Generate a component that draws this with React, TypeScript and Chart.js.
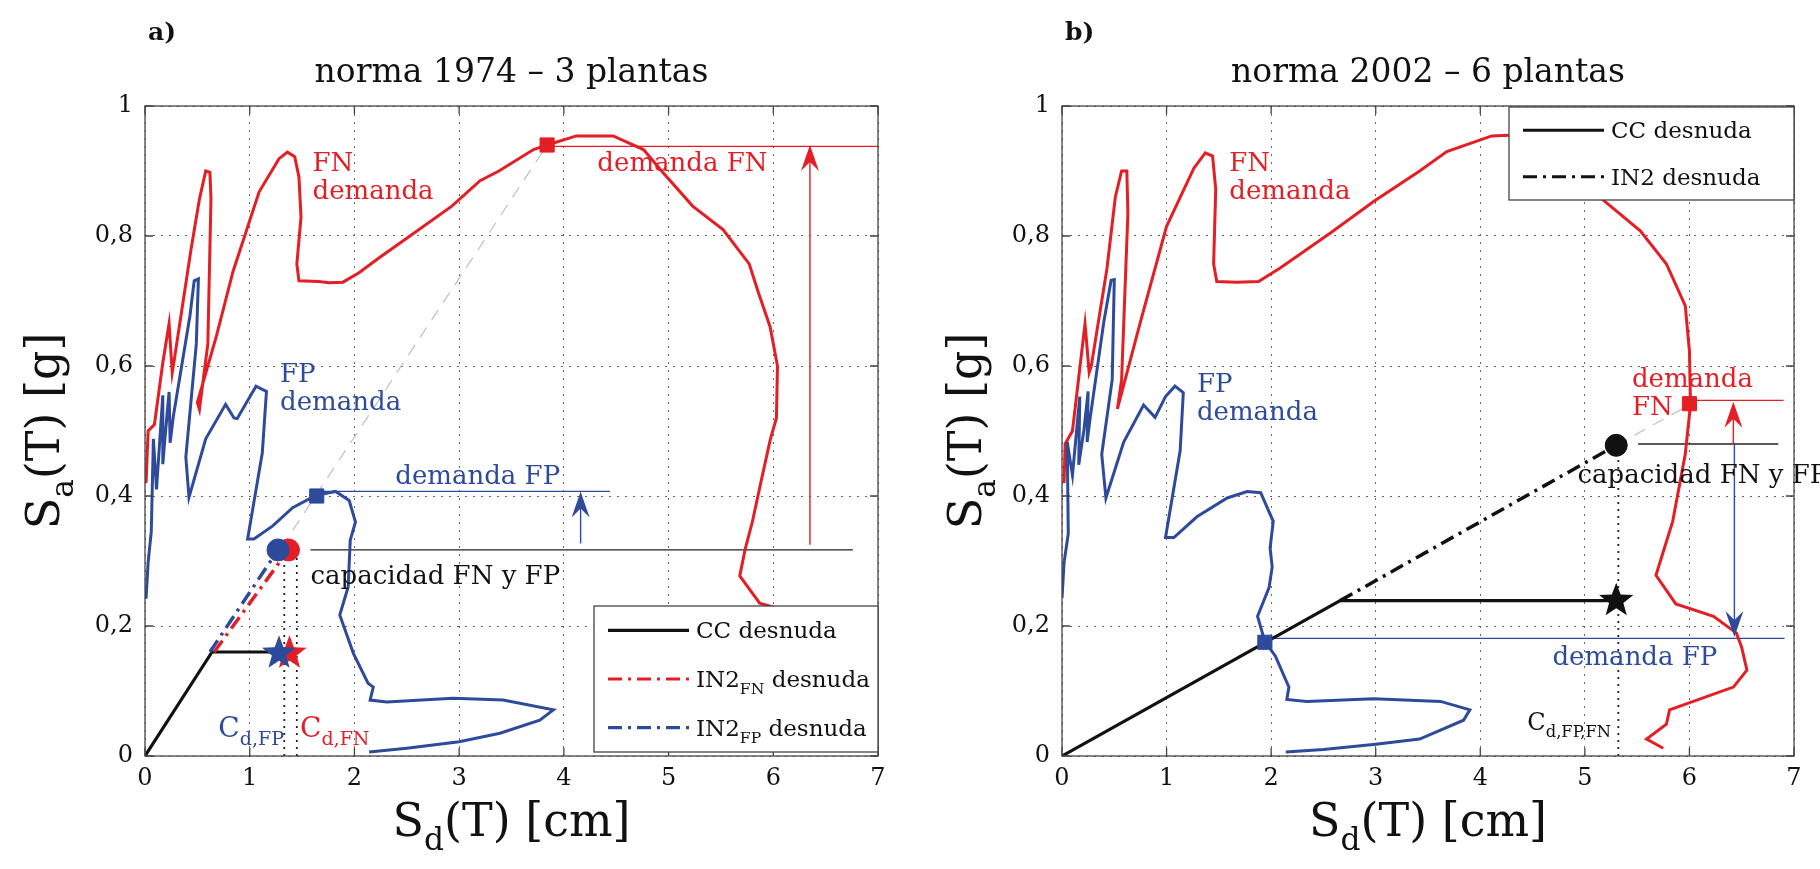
import React, { useEffect, useRef } from "react";
import { Chart, registerables } from "chart.js";
Chart.register(...registerables);

const RED = "#e31e24";
const BLUE = "#2e4b9b";
const FONT = '"DejaVu Serif", "Liberation Serif", serif';

const X_TICKS = [0, 1, 2, 3, 4, 5, 6, 7];
const Y_TICKS = [0, 0.2, 0.4, 0.6, 0.8, 1];

// ---------- panel a ----------
const A_FN_X = [0.01, 0.03, 0.09, 0.17, 0.23, 0.26, 0.28, 0.44, 0.52, 0.58, 0.62, 0.63, 0.6, 0.52, 0.5, 0.68, 0.84, 1.09, 1.28, 1.36, 1.43, 1.47, 1.49, 1.45, 1.47, 1.66, 1.76, 1.89, 2.04, 2.25, 2.53, 2.93, 3.2, 3.38, 3.71, 3.84, 4.12, 4.47, 4.76, 4.95, 5.23, 5.52, 5.77, 5.86, 5.97, 6.04, 6.03, 5.97, 5.88, 5.8, 5.73, 5.68, 5.87, 6.0, 6.2];
const A_FN_Y = [0.42, 0.5, 0.51, 0.605, 0.665, 0.59, 0.61, 0.78, 0.857, 0.9, 0.898, 0.857, 0.634, 0.533, 0.544, 0.645, 0.745, 0.868, 0.919, 0.929, 0.922, 0.891, 0.829, 0.757, 0.731, 0.73, 0.728, 0.729, 0.743, 0.768, 0.8, 0.846, 0.885, 0.9, 0.933, 0.94, 0.954, 0.954, 0.933, 0.897, 0.846, 0.81, 0.757, 0.712, 0.66, 0.6, 0.52, 0.486, 0.42, 0.36, 0.317, 0.277, 0.235, 0.229, 0.218];
const A_FP_X = [0.01, 0.03, 0.06, 0.08, 0.11, 0.17, 0.17, 0.19, 0.23, 0.24, 0.27, 0.43, 0.47, 0.51, 0.49, 0.39, 0.42, 0.58, 0.77, 0.85, 0.88, 1.06, 1.12, 1.16, 1.12, 0.98, 1.04, 1.22, 1.41, 1.63, 1.82, 1.95, 2.01, 1.96, 1.94, 1.86, 1.99, 2.13, 2.18, 2.15, 2.31, 2.94, 3.42, 3.9, 3.77, 3.39, 3.0, 2.5, 2.14];
const A_FP_Y = [0.242, 0.298, 0.345, 0.488, 0.41, 0.555, 0.449, 0.488, 0.56, 0.482, 0.522, 0.678, 0.731, 0.734, 0.634, 0.46, 0.398, 0.488, 0.541, 0.52, 0.519, 0.569, 0.564, 0.561, 0.466, 0.334, 0.334, 0.354, 0.382, 0.401, 0.407, 0.393, 0.36, 0.332, 0.26, 0.217, 0.158, 0.112, 0.106, 0.086, 0.083, 0.089, 0.086, 0.071, 0.055, 0.035, 0.022, 0.012, 0.006];
const A_CC_X = [0, 0.64, 1.33];
const A_CC_Y = [0, 0.16, 0.16];
const A_IN2FN_X = [0.66, 1.37];
const A_IN2FN_Y = [0.16, 0.317];
const A_IN2FP_X = [0.62, 1.27];
const A_IN2FP_Y = [0.16, 0.317];
const A_GUIDE_X = [1.3, 3.84];
const A_GUIDE_Y = [0.32, 0.94];
const A_SQ_FN = [3.84, 0.94];
const A_SQ_FP = [1.64, 0.4];
const A_CIRC_FN = [1.37, 0.317];
const A_CIRC_FP = [1.27, 0.317];
const A_STAR_FN = [1.38, 0.158];
const A_STAR_FP = [1.28, 0.158];
const A_LINE_FN = [3.84, 7.0, 0.938];
const A_LINE_FP = [1.64, 4.44, 0.407];
const A_LINE_CAP = [1.58, 6.76, 0.317];
const A_VDOT_X = [1.33, 1.45];
const A_VDOT_TOP = 0.317;
const A_ARROW_FP = [4.16, 0.327, 0.407];
const A_ARROW_FN = [6.35, 0.325, 0.94];

// ---------- panel b ----------
const B_FN_X = [0.02, 0.03, 0.1, 0.18, 0.22, 0.26, 0.28, 0.43, 0.51, 0.57, 0.62, 0.63, 0.57, 0.53, 0.75, 1.0, 1.26, 1.37, 1.44, 1.47, 1.45, 1.48, 1.67, 1.88, 2.09, 2.57, 2.98, 3.42, 3.68, 4.11, 4.28, 4.6, 4.95, 5.17, 5.53, 5.78, 5.96, 6.0, 6.01, 5.96, 5.84, 5.68, 5.87, 6.23, 6.45, 6.5, 6.55, 6.42, 5.81, 5.78, 5.59, 5.75];
const B_FN_Y = [0.42, 0.48, 0.5, 0.61, 0.665, 0.59, 0.6, 0.75, 0.86, 0.9, 0.9, 0.834, 0.579, 0.534, 0.668, 0.815, 0.904, 0.928, 0.923, 0.872, 0.757, 0.73, 0.729, 0.73, 0.751, 0.805, 0.853, 0.9, 0.93, 0.954, 0.955, 0.955, 0.93, 0.856, 0.808, 0.757, 0.693, 0.623, 0.54, 0.464, 0.361, 0.278, 0.234, 0.215, 0.189, 0.167, 0.132, 0.106, 0.071, 0.049, 0.026, 0.012];
const B_FP_X = [0.0, 0.02, 0.06, 0.05, 0.1, 0.17, 0.16, 0.21, 0.25, 0.24, 0.27, 0.4, 0.47, 0.5, 0.48, 0.38, 0.42, 0.59, 0.78, 0.89, 0.99, 1.08, 1.16, 1.13, 0.99, 1.07, 1.29, 1.58, 1.77, 1.9, 2.02, 1.99, 2.01, 1.98, 1.87, 1.94, 2.04, 2.17, 2.15, 2.34, 2.98, 3.62, 3.9, 3.84, 3.42, 3.0, 2.5, 2.14];
const B_FP_Y = [0.243, 0.298, 0.342, 0.483, 0.432, 0.553, 0.448, 0.502, 0.561, 0.483, 0.521, 0.668, 0.732, 0.733, 0.579, 0.464, 0.397, 0.483, 0.54, 0.521, 0.553, 0.569, 0.559, 0.47, 0.336, 0.336, 0.368, 0.397, 0.407, 0.405, 0.361, 0.32, 0.291, 0.259, 0.215, 0.176, 0.154, 0.106, 0.087, 0.084, 0.088, 0.084, 0.071, 0.055, 0.026, 0.018, 0.01, 0.006];
const B_CC_X = [0, 2.66, 5.3];
const B_CC_Y = [0, 0.239, 0.239];
const B_IN2_X = [2.66, 5.3];
const B_IN2_Y = [0.239, 0.478];
const B_GUIDE_X = [5.3, 6.0];
const B_GUIDE_Y = [0.478, 0.54];
const B_SQ_FN = [6.0, 0.542];
const B_SQ_FP = [1.94, 0.175];
const B_CIRC = [5.3, 0.478];
const B_STAR = [5.3, 0.239];
const B_LINE_FN = [6.0, 6.9, 0.547];
const B_LINE_FP = [1.94, 6.91, 0.181];
const B_LINE_CAP = [5.51, 6.85, 0.48];
const B_VDOT_X = [5.32];
const B_VDOT_TOP = 0.478;
const B_ARROW_FN = [6.42, 0.48, 0.545];
const B_ARROW_FP = [6.43, 0.48, 0.183];

const zip = (xs: number[], ys: number[]) => xs.map((x, i) => ({ x, y: ys[i] }));
const hline = (l: number[]) => [{ x: l[0], y: l[2] }, { x: l[1], y: l[2] }];
const pt = (p: number[]) => [{ x: p[0], y: p[1] }];

function line(data: any[], color: string, width: number, dash: number[] = []) {
  return { data, borderColor: color, backgroundColor: color, borderWidth: width, borderDash: dash, showLine: true, pointRadius: 0, tension: 0 };
}
function marker(data: any[], color: string, style: string, r: number) {
  return { data, showLine: false, pointStyle: style, pointRadius: r, pointBackgroundColor: color, pointBorderColor: color, borderColor: color, backgroundColor: color, pointBorderWidth: 1 };
}

type Txt = { x: number; y: number; parts: [string, boolean][]; color: string; size?: number };
type Arrow = { x: number; y0: number; y1: number; color: string };
type Star = { p: number[]; color: string };
type LegItem = { label: [string, boolean][]; color: string; dash: number[] };
type Panel = {
  tag: string; title: string; left: number; right: number; ylabX: number;
  datasets: any[]; texts: Txt[]; arrows: Arrow[]; stars: Star[];
  legend: { x0: number; y0: number; w: number; h: number; items: LegItem[] };
};

function drawParts(ctx: CanvasRenderingContext2D, parts: [string, boolean][], x: number, y: number, size: number, align: string) {
  const widths = parts.map(([t, sub]) => { ctx.font = `${sub ? size * 0.68 : size}px ${FONT}`; return ctx.measureText(t).width; });
  const total = widths.reduce((a, b) => a + b, 0);
  let cx = align === "center" ? x - total / 2 : x;
  parts.forEach(([t, sub], i) => {
    ctx.font = `${sub ? size * 0.68 : size}px ${FONT}`;
    ctx.textAlign = "left";
    ctx.textBaseline = "alphabetic";
    ctx.fillText(t, cx, y + (sub ? size * 0.3 : 0));
    cx += widths[i];
  });
}

function starPath(ctx: CanvasRenderingContext2D, cx: number, cy: number, R: number, r: number) {
  ctx.beginPath();
  for (let i = 0; i < 10; i++) {
    const a = -Math.PI / 2 + (i * Math.PI) / 5;
    const rad = i % 2 === 0 ? R : r;
    const px = cx + rad * Math.cos(a), py = cy + rad * Math.sin(a);
    if (i === 0) ctx.moveTo(px, py); else ctx.lineTo(px, py);
  }
  ctx.closePath();
}

function makeConfig(p: Panel): any {
  const deco = {
    id: "deco",
    afterDatasetsDraw(chart: any) {
      const ctx = chart.ctx as CanvasRenderingContext2D;
      const xs = chart.scales.x, ys = chart.scales.y;
      const a = chart.chartArea;
      ctx.save();
      p.stars.forEach((s) => {
        ctx.fillStyle = s.color;
        starPath(ctx, xs.getPixelForValue(s.p[0]), ys.getPixelForValue(s.p[1]), 18, 7.5);
        ctx.fill();
      });
      p.arrows.forEach((ar) => {
        const x = xs.getPixelForValue(ar.x), y0 = ys.getPixelForValue(ar.y0), y1 = ys.getPixelForValue(ar.y1);
        const dir = y1 < y0 ? 1 : -1;
        ctx.strokeStyle = ar.color; ctx.fillStyle = ar.color; ctx.lineWidth = 1.4;
        ctx.beginPath(); ctx.moveTo(x, y0); ctx.lineTo(x, y1 + dir * 10); ctx.stroke();
        ctx.beginPath(); ctx.moveTo(x, y1); ctx.lineTo(x - 9, y1 + dir * 26); ctx.lineTo(x, y1 + dir * 17); ctx.lineTo(x + 9, y1 + dir * 26); ctx.closePath(); ctx.fill();
      });
      p.texts.forEach((t) => {
        ctx.fillStyle = t.color;
        drawParts(ctx, t.parts, xs.getPixelForValue(t.x), ys.getPixelForValue(t.y), t.size || 26, "left");
      });
      ctx.strokeStyle = "#444"; ctx.lineWidth = 1.3; ctx.setLineDash([]);
      ctx.strokeRect(a.left, a.top, a.right - a.left, a.bottom - a.top);
      ctx.beginPath();
      X_TICKS.forEach((v) => { const x = xs.getPixelForValue(v); ctx.moveTo(x, a.bottom); ctx.lineTo(x, a.bottom - 8); ctx.moveTo(x, a.top); ctx.lineTo(x, a.top + 8); });
      Y_TICKS.forEach((v) => { const y = ys.getPixelForValue(v); ctx.moveTo(a.left, y); ctx.lineTo(a.left + 8, y); ctx.moveTo(a.right, y); ctx.lineTo(a.right - 8, y); });
      ctx.stroke();
      const L = p.legend;
      const lx = a.left + L.x0, ly = a.top + L.y0;
      ctx.fillStyle = "#fff"; ctx.fillRect(lx, ly, L.w, L.h);
      ctx.strokeStyle = "#444"; ctx.lineWidth = 1.3; ctx.strokeRect(lx, ly, L.w, L.h);
      const step = L.h / L.items.length;
      L.items.forEach((it, i) => {
        const cy = ly + step * (i + 0.5);
        ctx.strokeStyle = it.color; ctx.lineWidth = 3.2; ctx.setLineDash(it.dash);
        ctx.beginPath(); ctx.moveTo(lx + 14, cy); ctx.lineTo(lx + 95, cy); ctx.stroke();
        ctx.setLineDash([]);
        ctx.fillStyle = "#111";
        drawParts(ctx, it.label, lx + 102, cy + 8, 23, "left");
      });
      ctx.fillStyle = "#111";
      ctx.font = `bold 25px ${FONT}`; ctx.textAlign = "left"; ctx.textBaseline = "alphabetic";
      ctx.fillText(p.tag, a.left + 3, 40);
      ctx.font = `33px ${FONT}`; ctx.textAlign = "center";
      ctx.fillText(p.title, (a.left + a.right) / 2, 82);
      drawParts(ctx, [["S", false], ["d", true], ["(T) [cm]", false]], (a.left + a.right) / 2, 836, 46, "center");
      ctx.translate(p.ylabX, (a.top + a.bottom) / 2);
      ctx.rotate(-Math.PI / 2);
      drawParts(ctx, [["S", false], ["a", true], ["(T) [g]", false]], 0, 15, 46, "center");
      ctx.restore();
    },
  };
  return {
    type: "scatter",
    data: { datasets: p.datasets },
    options: {
      animation: false,
      responsive: false,
      layout: { padding: { left: 0, top: 106, right: p.right, bottom: 0 } },
      plugins: { legend: { display: false }, tooltip: { enabled: false } },
      scales: {
        x: {
          type: "linear", min: 0, max: 7,
          afterFit: (s: any) => { s.height = 113; },
          afterBuildTicks: (s: any) => { s.ticks = X_TICKS.map((v) => ({ value: v })); },
          grid: { color: "#666", lineWidth: 1, drawTicks: false },
          border: { display: false, dash: [2, 6] },
          ticks: { padding: 8, color: "#111", font: { family: FONT, size: 24 }, callback: (v: number) => String(v) },
        },
        y: {
          type: "linear", min: 0, max: 1,
          afterFit: (s: any) => { s.width = p.left; },
          afterBuildTicks: (s: any) => { s.ticks = Y_TICKS.map((v) => ({ value: v })); },
          grid: { color: "#666", lineWidth: 1, drawTicks: false },
          border: { display: false, dash: [2, 6] },
          ticks: { padding: 12, color: "#111", font: { family: FONT, size: 24 }, callback: (v: number) => (v === 0 || v === 1 ? String(v) : v.toFixed(1).replace(".", ",")) },
        },
      },
    },
    plugins: [deco],
  };
}

const DASHDOT = [14, 6, 3, 6];

const panelA: Panel = {
  tag: "a)", title: "norma 1974 – 3 plantas", left: 145, right: 32, ylabX: 44,
  datasets: [
    marker(pt(A_SQ_FN), RED, "rect", 10),
    marker(pt(A_SQ_FP), BLUE, "rect", 10),
    marker(pt(A_CIRC_FP), BLUE, "circle", 11),
    marker(pt(A_CIRC_FN), RED, "circle", 11),
    line(zip(A_IN2FP_X, A_IN2FP_Y), BLUE, 3.5, DASHDOT),
    line(zip(A_IN2FN_X, A_IN2FN_Y), RED, 3.5, DASHDOT),
    line(zip(A_CC_X, A_CC_Y), "#111", 3.2),
    line(zip(A_FP_X, A_FP_Y), BLUE, 3),
    line(zip(A_FN_X, A_FN_Y), RED, 3),
    line(hline(A_LINE_FN), RED, 1.3),
    line(hline(A_LINE_FP), BLUE, 1.3),
    line(hline(A_LINE_CAP), "#222", 1.3),
    line([{ x: A_VDOT_X[0], y: 0 }, { x: A_VDOT_X[0], y: A_VDOT_TOP }], "#222", 1.8, [2, 5]),
    line([{ x: A_VDOT_X[1], y: 0 }, { x: A_VDOT_X[1], y: A_VDOT_TOP }], "#222", 1.8, [2, 5]),
    line(zip(A_GUIDE_X, A_GUIDE_Y), "#c4c4c4", 1.3, [12, 9]),
  ],
  stars: [{ p: A_STAR_FN, color: RED }, { p: A_STAR_FP, color: BLUE }],
  arrows: [
    { x: A_ARROW_FP[0], y0: A_ARROW_FP[1], y1: A_ARROW_FP[2], color: BLUE },
    { x: A_ARROW_FN[0], y0: A_ARROW_FN[1], y1: A_ARROW_FN[2], color: RED },
  ],
  texts: [
    { x: 1.6, y: 0.9, parts: [["FN", false]], color: RED },
    { x: 1.6, y: 0.857, parts: [["demanda", false]], color: RED },
    { x: 1.29, y: 0.575, parts: [["FP", false]], color: BLUE },
    { x: 1.29, y: 0.532, parts: [["demanda", false]], color: BLUE },
    { x: 4.32, y: 0.9, parts: [["demanda FN", false]], color: RED },
    { x: 2.39, y: 0.418, parts: [["demanda FP", false]], color: BLUE },
    { x: 1.58, y: 0.265, parts: [["capacidad FN y FP", false]], color: "#111" },
    { x: 0.7, y: 0.03, parts: [["C", false], ["d,FP", true]], color: BLUE, size: 28 },
    { x: 1.48, y: 0.03, parts: [["C", false], ["d,FN", true]], color: RED, size: 28 },
  ],
  legend: {
    x0: 449, y0: 500, w: 284, h: 146,
    items: [
      { label: [["CC desnuda", false]], color: "#111", dash: [] },
      { label: [["IN2", false], ["FN", true], [" desnuda", false]], color: RED, dash: DASHDOT },
      { label: [["IN2", false], ["FP", true], [" desnuda", false]], color: BLUE, dash: DASHDOT },
    ],
  },
};

const panelB: Panel = {
  tag: "b)", title: "norma 2002 – 6 plantas", left: 152, right: 26, ylabX: 56,
  datasets: [
    marker(pt(B_SQ_FN), RED, "rect", 10),
    marker(pt(B_SQ_FP), BLUE, "rect", 10),
    marker(pt(B_CIRC), "#111", "circle", 11),
    line(zip(B_IN2_X, B_IN2_Y), "#111", 3.5, DASHDOT),
    line(zip(B_CC_X, B_CC_Y), "#111", 3.2),
    line(zip(B_FP_X, B_FP_Y), BLUE, 3),
    line(zip(B_FN_X, B_FN_Y), RED, 3),
    line(hline(B_LINE_FN), RED, 1.3),
    line(hline(B_LINE_FP), BLUE, 1.3),
    line(hline(B_LINE_CAP), "#222", 1.3),
    line([{ x: B_VDOT_X[0], y: 0 }, { x: B_VDOT_X[0], y: B_VDOT_TOP }], "#222", 1.8, [2, 5]),
    line(zip(B_GUIDE_X, B_GUIDE_Y), "#c4c4c4", 1.3, [12, 9]),
  ],
  stars: [{ p: B_STAR, color: "#111" }],
  arrows: [
    { x: B_ARROW_FN[0], y0: B_ARROW_FN[1], y1: B_ARROW_FN[2], color: RED },
    { x: B_ARROW_FP[0], y0: B_ARROW_FP[1], y1: B_ARROW_FP[2], color: BLUE },
  ],
  texts: [
    { x: 1.6, y: 0.9, parts: [["FN", false]], color: RED },
    { x: 1.6, y: 0.857, parts: [["demanda", false]], color: RED },
    { x: 1.29, y: 0.56, parts: [["FP", false]], color: BLUE },
    { x: 1.29, y: 0.517, parts: [["demanda", false]], color: BLUE },
    { x: 5.45, y: 0.568, parts: [["demanda", false]], color: RED },
    { x: 5.45, y: 0.525, parts: [["FN", false]], color: RED },
    { x: 4.93, y: 0.42, parts: [["capacidad FN y FP", false]], color: "#111" },
    { x: 4.69, y: 0.14, parts: [["demanda FP", false]], color: BLUE },
    { x: 4.45, y: 0.04, parts: [["C", false], ["d,FP,FN", true]], color: "#111", size: 24 },
  ],
  legend: {
    x0: 447, y0: 1, w: 285, h: 93,
    items: [
      { label: [["CC desnuda", false]], color: "#111", dash: [] },
      { label: [["IN2 desnuda", false]], color: "#111", dash: DASHDOT },
    ],
  },
};

function ChartCanvas({ panel, left }: { panel: Panel; left: number }) {
  const ref = useRef<HTMLCanvasElement>(null);
  useEffect(() => {
    const c = new Chart(ref.current as HTMLCanvasElement, makeConfig(panel));
    return () => c.destroy();
  }, []);
  return <canvas ref={ref} width={910} height={869} style={{ position: "absolute", left, top: 0, width: 910, height: 869 }} />;
}

export default function App() {
  return (
    <div style={{ position: "absolute", left: 0, top: 0, width: 1820, height: 869, background: "#fff" }}>
      <ChartCanvas panel={panelA} left={0} />
      <ChartCanvas panel={panelB} left={910} />
    </div>
  );
}
